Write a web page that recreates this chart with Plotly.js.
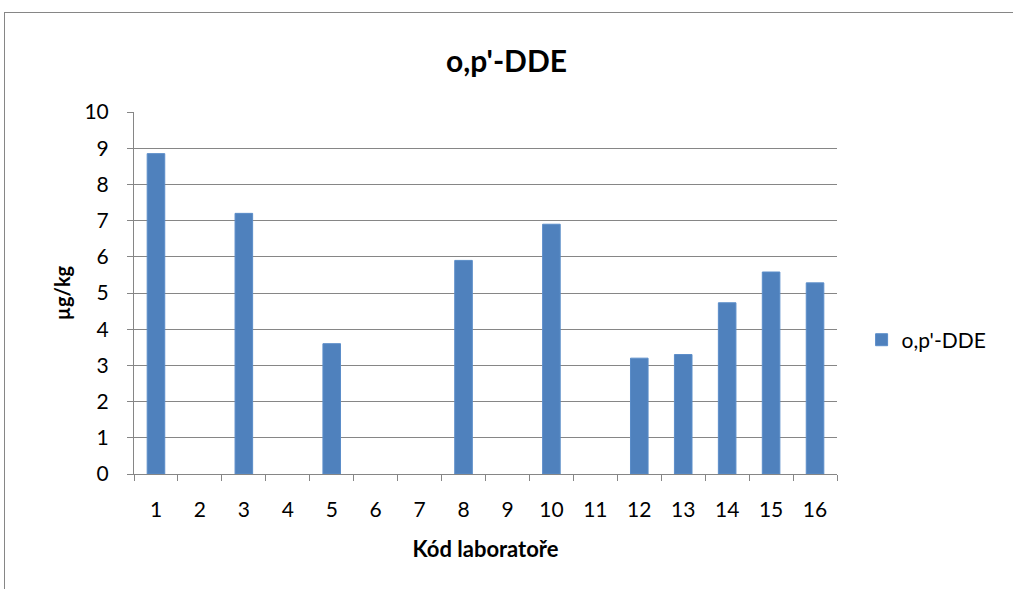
<!DOCTYPE html>
<html>
<head>
<meta charset="utf-8">
<script src="https://cdn.plot.ly/plotly-3.0.1.min.js"></script>
<style>
html,body{margin:0;padding:0;background:#fff;}
#chart{width:1013px;height:589px;position:relative;}
#frame{position:absolute;left:4px;top:12px;width:1100px;height:700px;border:1px solid #868686;pointer-events:none;}
</style>
</head>
<body>
<div id="chart"></div>
<div id="frame"></div>
<script>
var labs = ["1","2","3","4","5","6","7","8","9","10","11","12","13","14","15","16"];
var values = [8.85,null,7.2,null,3.6,null,null,5.9,null,6.9,null,3.2,3.3,4.73,5.58,5.28];
var seriesName = "o,p'-DDE";
var chartTitle = "o,p'-DDE";
var xTitle = "Kód laboratoře";
var yTitle = "µg/kg";

var font = "Lato, 'Open Sans', sans-serif";
var trace = {
  type: "bar",
  x: labs,
  y: values,
  name: seriesName,
  marker: {color: "#4F81BD", line: {color: "#5B8DC9", width: 1}},
  showlegend: true
};
var layout = {
  width: 1013, height: 589,
  paper_bgcolor: "rgba(0,0,0,0)", plot_bgcolor: "rgba(0,0,0,0)",
  margin: {l: 134, r: 176, t: 112, b: 115},
  font: {family: font, color: "#000"},
  title: {text: "<b>" + chartTitle + "</b>", font: {size: 30, family: font, color: "#000"}, x: 0.5, xanchor: "center", xref: "container", y: 0.895, yanchor: "middle"},
  bargap: 0.6,
  xaxis: {
    type: "category",
    tickfont: {size: 21, family: font},
    showline: true, linecolor: "#868686", linewidth: 1,
    ticks: "outside", tickson: "boundaries", ticklen: 6, tickcolor: "#868686",
    ticklabelstandoff: 17,
    showgrid: false,
    title: {text: "<b>" + xTitle + "</b>", font: {size: 22, family: font}, standoff: 21}
  },
  yaxis: {
    range: [0, 10], dtick: 1,
    tickfont: {size: 21, family: font},
    showline: true, linecolor: "#868686", linewidth: 1,
    ticks: "outside", ticklen: 6, tickcolor: "#868686",
    ticklabelstandoff: 14,
    showgrid: true, gridcolor: "#868686", gridwidth: 1,
    zeroline: false,
    title: {text: "<b>" + yTitle + "</b>", font: {size: 20, family: font}, standoff: 8}
  },
  legend: {x: 1.035, xanchor: "left", y: 0.37, yanchor: "middle", font: {size: 21, family: font}, bgcolor: "rgba(0,0,0,0)"}
};
Plotly.newPlot("chart", [trace], layout, {displayModeBar: false, staticPlot: true});
</script>
</body>
</html>
